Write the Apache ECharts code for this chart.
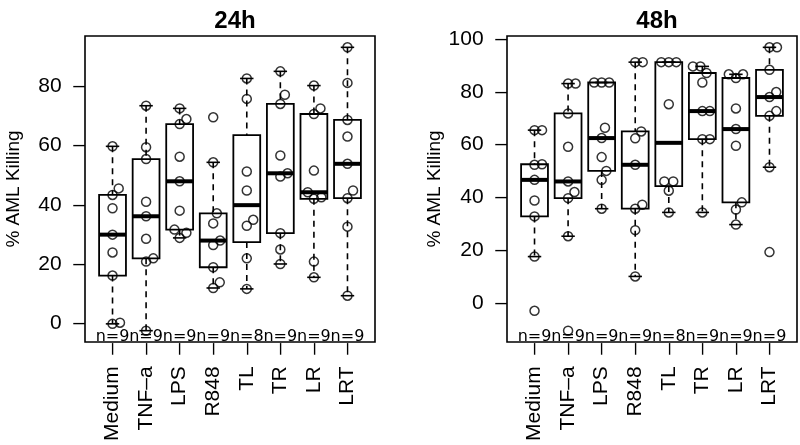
<!DOCTYPE html>
<html>
<head>
<meta charset="utf-8">
<script src="https://cdn.jsdelivr.net/npm/echarts@6/dist/echarts.min.js"></script>
<style>
  html, body { margin: 0; background: #fff; }
  #main { width: 800px; height: 445px; }
</style>
</head>
<body>
<div id="main"></div>
<script>
// groups on the x axis
var categories = ['Medium', 'TNF\u2013a', 'LPS', 'R848', 'TL', 'TR', 'LR', 'LRT'];

// % AML killing, 24h
var medium24 = [59.7, 45.5, 43.3, 38.8, 29.9, 23.9, 16.1, -0.2, 0.2];
var tnfa24   = [73.4, 59.4, 55.4, 41.0, 36.1, 28.5, 21.9, 20.8, -2.5];
var lps24    = [72.5, 68.9, 67.2, 56.2, 47.9, 38.0, 31.6, 30.5, 28.8];
var r848_24  = [69.5, 54.3, 37.1, 33.7, 27.9, 26.4, 18.9, 13.8, 11.9];
var tl24     = [82.6, 75.7, 51.2, 44.8, 34.9, 32.9, 21.9, 11.6];
var tr24     = [85.0, 77.1, 74.0, 56.6, 50.6, 49.5, 30.4, 24.9, 20.0];
var lr24     = [80.2, 72.5, 70.6, 51.5, 44.2, 42.5, 42.0, 20.8, 15.5];
var lrt24    = [93.1, 81.1, 68.6, 63.0, 53.8, 44.8, 42.2, 32.6, 9.3];

// % AML killing, 48h
var medium48 = [65.5, 65.5, 52.6, 52.4, 46.7, 38.9, 32.9, 17.7, -2.8];
var tnfa48   = [83.1, 83.1, 71.8, 59.2, 46.1, 42.1, 39.8, 25.4, -10.3];
var lps48    = [83.5, 83.5, 83.5, 66.4, 62.5, 55.3, 50.1, 46.7, 35.8];
var r848_48  = [91.2, 91.2, 65.0, 62.4, 52.4, 37.3, 35.8, 27.7, 10.2];
var tl48     = [91.2, 91.2, 91.2, 75.3, 46.1, 46.1, 42.6, 34.4];
var tr48     = [89.6, 89.6, 87.1, 83.5, 72.7, 72.7, 62.1, 62.1, 34.4];
var lr48     = [86.6, 86.6, 85.2, 73.7, 65.9, 59.6, 38.2, 35.5, 29.8];
var lrt48    = [96.8, 96.8, 88.3, 79.9, 78.0, 72.7, 70.9, 51.5, 19.4];

// y tick labels
var ticks24 = [0, 20, 40, 60, 80];
var ticks48 = [0, 20, 40, 60, 80, 100];

var FONT = '"Liberation Sans", Arial, Helvetica, sans-serif';
// the outward tick drawn at the axis end of each label
var TICK = '  \u2013';

var panels = [
    { title: '24h', groups: [medium24, tnfa24, lps24, r848_24, tl24, tr24, lr24, lrt24], ticks: ticks24, left: 85 },
    { title: '48h', groups: [medium48, tnfa48, lps48, r848_48, tl48, tr48, lr48, lrt48], ticks: ticks48, left: 507 }
];
var gridTop = 36, gridW = 290, gridH = 306;

// Tukey five number summary, like R's fivenum
function fivenum(a) {
    var x = a.slice().sort(function (p, q) { return p - q; });
    var n = x.length;
    var n4 = Math.floor((n + 3) / 2) / 2;
    return [1, n4, (n + 1) / 2, n + 1 - n4, n].map(function (d) {
        return 0.5 * (x[Math.floor(d) - 1] + x[Math.ceil(d) - 1]);
    });
}

function boxStats(a) {
    var f = fivenum(a);
    var iqr = f[3] - f[1];
    var inside = a.filter(function (v) { return v >= f[1] - 1.5 * iqr && v <= f[3] + 1.5 * iqr; });
    return [Math.min.apply(null, inside), f[1], f[2], f[3], Math.max.apply(null, inside)];
}

function yRange(groups) {
    var all = [].concat.apply([], groups);
    var lo = Math.min.apply(null, all), hi = Math.max.apply(null, all);
    var pad = 0.04 * (hi - lo);
    return [lo - pad, hi + pad];
}

// beeswarm style placement, in pixels
function swarm(vals, pxY, sx, sy) {
    var order = vals.map(function (v, i) { return i; })
        .sort(function (a, b) { return vals[a] - vals[b]; });
    var placed = [], off = [];
    order.forEach(function (i) {
        var y = vals[i] * pxY;
        var cands = [0];
        placed.forEach(function (p) {
            var dy = Math.abs(p.y - y) / sy;
            if (dy < 1) {
                var dx = sx * Math.sqrt(1 - dy * dy);
                cands.push(p.x + dx, p.x - dx);
            }
        });
        cands.sort(function (a, b) { return (Math.abs(a) - Math.abs(b)) || (b - a); });
        var x = cands.find(function (c) {
            return placed.every(function (p) {
                var ddx = (p.x - c) / sx, ddy = (p.y - y) / sy;
                return ddx * ddx + ddy * ddy >= 1 - 1e-6;
            });
        });
        placed.push({ x: x, y: y });
        off[i] = x;
    });
    return off;
}

// one box with whiskers, staples, median and its n label
function renderBox(params, api) {
    var x = api.value(0);
    var c = function (dx, v) { return api.coord([x + dx, v]); };
    var lo = api.value(1), q1 = api.value(2), med = api.value(3), q3 = api.value(4), hi = api.value(5);
    var line = { stroke: '#000', lineWidth: 1.6 };
    var dash = { stroke: '#000', lineWidth: 1.6, lineDash: [6, 5] };
    var a = c(-0.4, q3), b = c(0.4, q1);
    var m1 = c(-0.4, med), m2 = c(0.4, med);
    var w1 = c(0, hi), w2 = c(0, q3), w3 = c(0, q1), w4 = c(0, lo);
    var s1 = c(-0.2, hi), s2 = c(0.2, hi), s3 = c(-0.2, lo), s4 = c(0.2, lo);
    var cs = params.coordSys;
    return {
        type: 'group',
        children: [
            { type: 'line', shape: { x1: w1[0], y1: w1[1], x2: w2[0], y2: w2[1] }, style: dash },
            { type: 'line', shape: { x1: w3[0], y1: w3[1], x2: w4[0], y2: w4[1] }, style: dash },
            { type: 'line', shape: { x1: s1[0], y1: s1[1], x2: s2[0], y2: s2[1] }, style: line },
            { type: 'line', shape: { x1: s3[0], y1: s3[1], x2: s4[0], y2: s4[1] }, style: line },
            { type: 'rect', shape: { x: a[0], y: a[1], width: b[0] - a[0], height: b[1] - a[1] },
              style: { fill: 'none', stroke: '#000', lineWidth: 1.8 } },
            { type: 'line', shape: { x1: m1[0], y1: m1[1], x2: m2[0], y2: m2[1] },
              style: { stroke: '#000', lineWidth: 4 } },
            { type: 'text', x: w1[0], y: cs.y + cs.height + 3,
              style: { text: 'n=' + api.value(6), fill: '#000', font: '16px "DejaVu Sans", sans-serif',
                       align: 'center', verticalAlign: 'bottom' } }
        ]
    };
}

var chart = echarts.init(document.getElementById('main'));
var n = categories.length;
var xTicks = categories.map(function (s, i) { return i + 1; });

var option = {
    animation: false,
    backgroundColor: '#fff',
    title: [], grid: [], xAxis: [], yAxis: [], series: []
};

panels.forEach(function (p, k) {
    var r = yRange(p.groups);
    option.title.push({
        text: p.title, left: p.left + gridW / 2, top: 4, textAlign: 'center',
        textStyle: { fontSize: 24, fontWeight: 'bold', color: '#000', fontFamily: FONT }
    });
    option.grid.push({
        left: p.left, top: gridTop, width: gridW, height: gridH,
        show: true, borderColor: '#000', borderWidth: 1.6, backgroundColor: 'transparent'
    });
    option.xAxis.push({
        type: 'value', gridIndex: k, min: 0.5 - 0.04 * n, max: n + 0.5 + 0.04 * n,
        position: 'bottom',
        axisLine: { show: false, onZero: false }, splitLine: { show: false }, axisTick: { show: false },
        axisLabel: {
            customValues: xTicks, rotate: 90, margin: 1, fontSize: 21, color: '#000', fontFamily: FONT,
            formatter: function (v) { return categories[Math.round(v) - 1] + TICK; }
        }
    });
    option.yAxis.push({
        type: 'value', gridIndex: k, min: r[0], max: r[1],
        position: 'left',
        axisLine: { show: false, onZero: false }, splitLine: { show: false }, axisTick: { show: false },
        axisLabel: {
            customValues: p.ticks, margin: 0, fontSize: 21, color: '#000', fontFamily: FONT,
            formatter: function (v) { return v + TICK; }
        },
        name: '% AML Killing', nameLocation: 'middle', nameGap: 62,
        nameTextStyle: { fontSize: 19, color: '#000', fontFamily: FONT }
    });
});

chart.setOption(option);

var series = [];
panels.forEach(function (p, k) {
    var f = { xAxisIndex: k, yAxisIndex: k };
    var p0 = chart.convertToPixel(f, [1, 0]);
    var p1 = chart.convertToPixel(f, [2, 10]);
    var pxX = p1[0] - p0[0], pxY = (p0[1] - p1[1]) / 10;

    var boxes = p.groups.map(function (g, i) {
        return [i + 1].concat(boxStats(g), [g.length]);
    });
    var pts = [];
    p.groups.forEach(function (g, i) {
        var off = swarm(g, pxY, 7.5, 11.5);
        g.forEach(function (v, j) { pts.push([i + 1 + off[j] / pxX, v]); });
    });
    series.push({
        type: 'custom', xAxisIndex: k, yAxisIndex: k, silent: true,
        renderItem: renderBox, data: boxes, z: 2
    });
    series.push({
        type: 'scatter', xAxisIndex: k, yAxisIndex: k, silent: true, data: pts, z: 3,
        symbol: 'circle', symbolSize: 9,
        itemStyle: { color: 'rgba(0,0,0,0)', borderColor: '#000', borderWidth: 1.5 }
    });
});

chart.setOption({ series: series });
</script>
</body>
</html>
